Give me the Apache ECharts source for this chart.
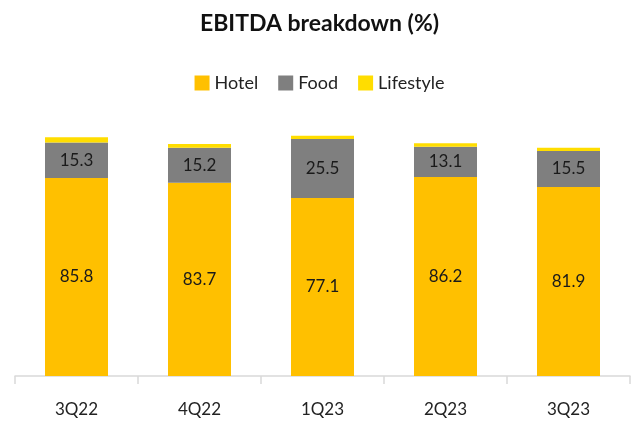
<!DOCTYPE html>
<html>
<head>
<meta charset="utf-8">
<script src="https://cdn.jsdelivr.net/npm/echarts@6/dist/echarts.min.js"></script>
<style>
  html, body { margin: 0; padding: 0; background: #fff; }
  #chart { width: 639px; height: 423px; }
</style>
</head>
<body>
<div id="chart"></div>
<script>
const categories = ['3Q22', '4Q22', '1Q23', '2Q23', '3Q23'];
const hotel = [85.8, 83.7, 77.1, 86.2, 81.9];
const food = [15.3, 15.2, 25.5, 13.1, 15.5];
const lifestyle = [2.3, 1.6, 1.4, 1.5, 1.4];

const fontFamily = 'Lato, "Open Sans", sans-serif';

const labelStyle = {
  show: true,
  position: 'inside',
  color: '#1a1a1a',
  fontSize: 17,
  fontFamily: fontFamily
};

const chart = echarts.init(document.getElementById('chart'));
chart.setOption({
  backgroundColor: '#fff',
  animation: false,
  title: {
    text: 'EBITDA breakdown (%)',
    left: 'center',
    top: 7,
    textStyle: { fontSize: 23, fontWeight: 'bold', color: '#111', fontFamily: fontFamily }
  },
  legend: {
    top: 69,
    left: 'center',
    itemWidth: 15,
    itemHeight: 15,
    itemGap: 20,
    icon: 'rect',
    textStyle: { fontSize: 18, color: '#222', fontFamily: fontFamily },
    data: ['Hotel', 'Food', 'Lifestyle']
  },
  grid: { left: 15, right: 9, top: 122, bottom: 47 },
  xAxis: {
    type: 'category',
    data: categories,
    axisLine: { lineStyle: { color: '#d9d9d9', width: 1.5 } },
    axisTick: { show: true, length: 8, lineStyle: { color: '#d9d9d9', width: 1.5 } },
    axisLabel: { margin: 25, fontSize: 17, color: '#222', fontFamily: fontFamily }
  },
  yAxis: {
    type: 'value',
    min: 0,
    max: 110,
    show: false,
    splitLine: { show: false }
  },
  series: [
    {
      name: 'Hotel',
      type: 'bar',
      stack: 'total',
      barWidth: 63,
      itemStyle: { color: '#FFC000' },
      label: labelStyle,
      data: hotel
    },
    {
      name: 'Food',
      type: 'bar',
      stack: 'total',
      itemStyle: { color: '#7F7F7F' },
      label: labelStyle,
      data: food
    },
    {
      name: 'Lifestyle',
      type: 'bar',
      stack: 'total',
      itemStyle: { color: '#FFDD00' },
      data: lifestyle
    }
  ]
});
</script>
</body>
</html>
